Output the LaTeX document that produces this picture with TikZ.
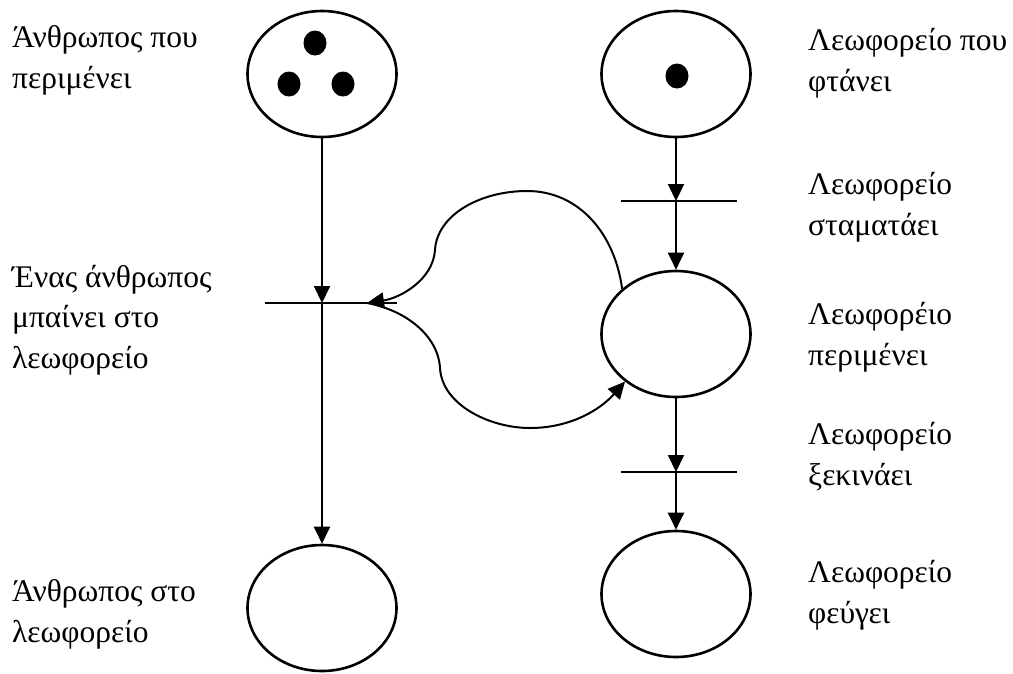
\documentclass[tikz,border=0pt]{standalone}
\usepackage{fontspec}
\setmainfont{Liberation Serif}
\usetikzlibrary{shapes.geometric,arrows.meta}
\begin{document}
\begin{tikzpicture}[x=1pt,y=-1pt,
  place/.style={draw,ellipse,line width=2.6pt,minimum width=149pt,minimum height=126pt,inner sep=0pt},
  token/.style={fill,ellipse,minimum width=23pt,minimum height=25pt,inner sep=0pt},
  bar/.style={rectangle,minimum height=0pt,inner sep=0pt,outer sep=0pt},
  barline/.style={line width=2.3pt},
  flow/.style={line width=2pt,-{Triangle[length=17pt,width=16pt]}},
  label/.style={anchor=base west,inner sep=0pt,align=left,font=\fontsize{31.5}{40.5}\selectfont}]
\useasboundingbox (0,0) rectangle (1013,673);

% places
\node[place] (pA) at (322,74) {};
\node[place] (pB) at (676,74) {};
\node[place] (pW) at (676,334) {};
\node[place] (pC) at (322,608) {};
\node[place] (pD) at (676,594) {};

% tokens
\node[token] (k1) at (315,43) {};
\node[token] (k2) at (289,84) {};
\node[token] (k3) at (343,84) {};
\node[token] (k4) at (677,76) {};

% transitions
\node[bar,minimum width=132pt] (tL) at (331,303) {};
\node[bar,minimum width=116pt] (tS) at (679,201) {};
\node[bar,minimum width=116pt] (tG) at (679,472) {};
\draw[barline] (tL.west) -- (tL.east);
\draw[barline] (tS.west) -- (tS.east);
\draw[barline] (tG.west) -- (tG.east);

% arcs
\draw[flow] (pA.south) -- (pA.south |- tL.center);
\draw[flow] (pA.south |- tL.center) -- (pC.north);
\draw[flow] (pB.south) -- (pB.south |- tS.center);
\draw[flow] (pB.south |- tS.center) -- (pW.north);
\draw[flow] (pW.south) -- (pW.south |- tG.center);
\draw[flow] (pW.south |- tG.center) -- (pD.north);

\coordinate (hook) at (367,303);
\draw[flow] (pW.140) .. controls (615,235) and (580,191) .. (527,191)
  .. controls (480,191) and (437,215) .. (435,250)
  .. controls (433,280) and (400,298) .. (hook);
\draw[flow] (hook) .. controls (405,310) and (438,335) .. (440,368)
  .. controls (442,405) and (490,428) .. (530,428)
  .. controls (570,428) and (600,410) .. (pW.223);

% labels (anchored at the baseline of their last line)
\node[label] (l1) at (12,88) {Άνθρωπος που\\περιμένει};
\node[label] (l2) at (12,368) {Ένας άνθρωπος\\μπαίνει στο\\λεωφορείο};
\node[label] (l3) at (12,642) {Άνθρωπος στο\\λεωφορείο};
\node[label] (r1) at (808,91) {Λεωφορείο που\\φτάνει};
\node[label] (r2) at (808,235) {Λεωφορείο\\σταματάει};
\node[label] (r3) at (808,365) {Λεωφορέιο\\περιμένει};
\node[label] (r4) at (808,485) {Λεωφορείο\\ξεκινάει};
\node[label] (r5) at (808,623) {Λεωφορείο\\φεύγει};
\end{tikzpicture}
\end{document}
